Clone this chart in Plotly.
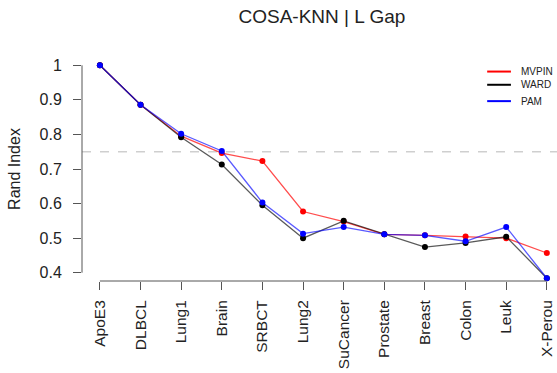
import plotly.graph_objects as go

categories = ["ApoE3", "DLBCL", "Lung1", "Brain", "SRBCT", "Lung2", "SuCancer",
              "Prostate", "Breast", "Colon", "Leuk", "X-Perou"]
mvpin = [1.0, 0.886, 0.795, 0.746, 0.723, 0.577, 0.548, 0.511, 0.508, 0.505, 0.500, 0.457]
ward = [1.0, 0.886, 0.792, 0.713, 0.595, 0.500, 0.550, 0.511, 0.474, 0.486, 0.504, 0.384]
pam = [1.0, 0.886, 0.802, 0.752, 0.603, 0.513, 0.532, 0.511, 0.508, 0.491, 0.532, 0.384]
series_names = ["MVPIN", "WARD", "PAM"]
series_values = [mvpin, ward, pam]
series_colors = ["#ff0000", "#000000", "#0000ff"]
line_colors = ["rgba(255,0,0,0.7)", "rgba(0,0,0,0.65)", "rgba(0,0,255,0.65)"]
y_ticks = [0.4, 0.5, 0.6, 0.7, 0.8, 0.9, 1.0]
y_ticktext = ["0.4", "0.5", "0.6", "0.7", "0.8", "0.9", "1"]
threshold = 0.75

FONT = "Liberation Sans, Arial, sans-serif"
fig = go.Figure()

fig.add_hline(y=threshold, line=dict(color="#cfcfcf", width=1.5, dash="dash"), layer="below")

for name, vals, c, lc in zip(series_names, series_values, series_colors, line_colors):
    fig.add_trace(go.Scatter(
        x=categories, y=vals, mode="lines+markers", name=name,
        line=dict(color=lc, width=1.3),
        marker=dict(color=c, size=6),
        showlegend=False, cliponaxis=False,
    ))

# axis lines spanning only the tick range (R style)
fig.add_shape(type="line", xref="x", yref="paper", x0=0, x1=len(categories) - 1, y0=0, y1=0,
              line=dict(color="#555555", width=1))
fig.add_shape(type="line", xref="paper", yref="y", x0=0, x1=0, y0=y_ticks[0], y1=y_ticks[-1],
              line=dict(color="#555555", width=1))

# custom R-like legend
leg_y = [0.935, 0.876, 0.803]
for name, c, ly in zip(series_names, series_colors, leg_y):
    fig.add_shape(type="line", xref="paper", yref="paper", x0=0.853, x1=0.903, y0=ly, y1=ly,
                  line=dict(color=c, width=2))
    fig.add_annotation(text=name, xref="paper", yref="paper", x=0.92, y=ly,
                       xanchor="left", yanchor="middle", showarrow=False,
                       font=dict(family=FONT, size=10, color="#222222"))

fig.update_layout(
    width=557, height=373,
    margin=dict(l=82, r=0, t=57, b=92, autoexpand=False),
    paper_bgcolor="white", plot_bgcolor="white",
    title=dict(text="COSA-KNN | L Gap", x=0.578, xanchor="center", xref="container",
               y=0.957, yanchor="middle",
               font=dict(family=FONT, size=19, color="#222222")),
    font=dict(family=FONT, color="#222222"),
)
fig.update_xaxes(
    type="category", range=[-0.44, 11.25], automargin=False,
    tickmode="array", tickvals=categories, ticktext=categories,
    tickangle=-90, ticks="outside", ticklen=8, tickcolor="#555555",
    ticklabelstandoff=4,
    tickfont=dict(family=FONT, size=15.5, color="#222222"),
    showgrid=False, zeroline=False, showline=False,
)
fig.update_yaxes(
    range=[0.376, 1.024], automargin=False,
    tickmode="array", tickvals=y_ticks, ticktext=y_ticktext,
    ticks="outside", ticklen=8, tickcolor="#555555",
    ticklabelstandoff=8,
    tickfont=dict(family=FONT, size=16, color="#222222"),
    title=dict(text="Rand Index", standoff=14, font=dict(family=FONT, size=16, color="#222222")),
    showgrid=False, zeroline=False, showline=False,
)

fig.write_html("out.html", config={"displayModeBar": False},
               post_script="document.body.style.margin='0';document.body.style.overflow='hidden';")
